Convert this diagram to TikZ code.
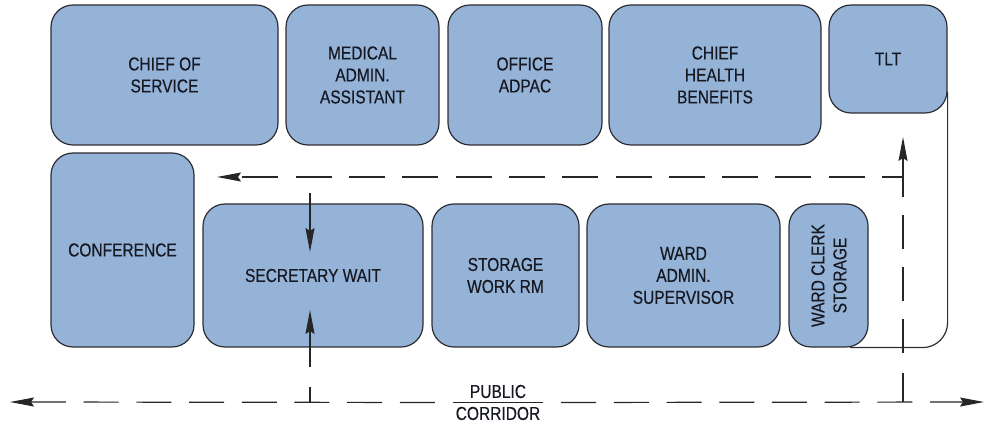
\documentclass[tikz,border=0pt]{standalone}
\usepackage{fontspec}
\setmainfont{Liberation Sans}[FakeStretch=0.83,FakeBold=0.35]
\usetikzlibrary{arrows.meta}
\definecolor{roomfill}{RGB}{149,179,215}
\definecolor{roomline}{RGB}{45,45,52}
\definecolor{txt}{RGB}{22,24,34}
\begin{document}
\begin{tikzpicture}[x=1pt,y=-1pt,
  room/.style={draw=roomline, line width=1.2pt, fill=roomfill, rounded corners=22pt,
    align=center, text=txt, font=\fontsize{18.7}{22}\selectfont, inner sep=0pt},
  flow/.style={draw=black!85, line width=1.2pt},
  tipend/.style={-{Stealth[length=24pt,width=9pt,inset=3pt]}},
  hall/.style={flow, dash pattern=on 35pt off 17.7pt},
  lbl/.style={text=txt, font=\fontsize{18.7}{22}\selectfont, align=center, inner sep=3pt},
]
\useasboundingbox (0,0) rectangle (985,427);

% top row
\node[room, minimum width=227pt, minimum height=140pt] (cos) at (164.5,75) {CHIEF OF\\SERVICE};
\node[room, minimum width=153pt, minimum height=140pt] (maa) at (362.5,75) {MEDICAL\\ADMIN.\\ASSISTANT};
\node[room, minimum width=154pt, minimum height=140pt] (adpac) at (525,75) {OFFICE\\ADPAC};
\node[room, minimum width=212pt, minimum height=140pt] (chb) at (715,75) {CHIEF\\HEALTH\\BENEFITS};
\node[room, minimum width=118pt, minimum height=108pt] (tlt) at (888,59) {TLT};

% second row
\node[room, minimum width=143pt, minimum height=194pt] (conf) at (122.5,250) {CONFERENCE};
\node[room, minimum width=220pt, minimum height=143pt] (sec) at (313,275.5) {SECRETARY WAIT};
\node[room, minimum width=147pt, minimum height=143pt] (stor) at (505.5,275.5) {STORAGE\\WORK RM};
\node[room, minimum width=193pt, minimum height=143pt] (ward) at (683.5,275.5) {WARD\\ADMIN.\\SUPERVISOR};
\node[room, minimum width=79pt, minimum height=143pt] (clerk) at (828.5,275.5)
  {\hspace{5pt}\rotatebox{90}{\begin{tabular}{@{}c@{}}WARD CLERK\\STORAGE\end{tabular}}};

% enclosing wall from TLT to ward clerk storage
\draw[draw=roomline, line width=1.2pt, rounded corners=25pt]
  ([yshift=22pt]tlt.south east) -- (tlt.east |- clerk.south) -- ([xshift=21.5pt]clerk.south);

% corridor label
\node[lbl] (corr) at (498,402.5) {PUBLIC\\CORRIDOR};
\coordinate (cl) at (10,402);
\coordinate (cr) at (984,402);
\draw[flow] (corr.west) -- (corr.east);
\draw[hall, dash phase=35pt, tipend] (corr.west) -- (cl);
\draw[hall, dash phase=35pt, tipend] (corr.east) -- (cr);

% upper staff path
\coordinate (ur) at (903,177);
\coordinate (ul) at (217,177);
\draw[flow, dash pattern=on 36pt off 17.3pt, dash phase=15pt, tipend] (ur) -- (ul);

% path up to TLT
\coordinate (tb) at (903,402);
\coordinate (tt) at (903,137);
\draw[flow, dash pattern=on 29pt off 20pt on 34pt off 18pt on 34pt off 18pt on 34pt off 18pt on 120pt, tipend] (tb) -- (tt);

% secretary access
\coordinate (st) at (310,193);
\coordinate (sti) at (310,252);
\coordinate (sb) at (310,402);
\coordinate (sbi) at (310,310);
\draw[flow, tipend] (st) -- (sti);
\draw[flow, dash pattern=on 15pt off 20pt on 120pt, tipend] (sb) -- (sbi);
\end{tikzpicture}
\end{document}
